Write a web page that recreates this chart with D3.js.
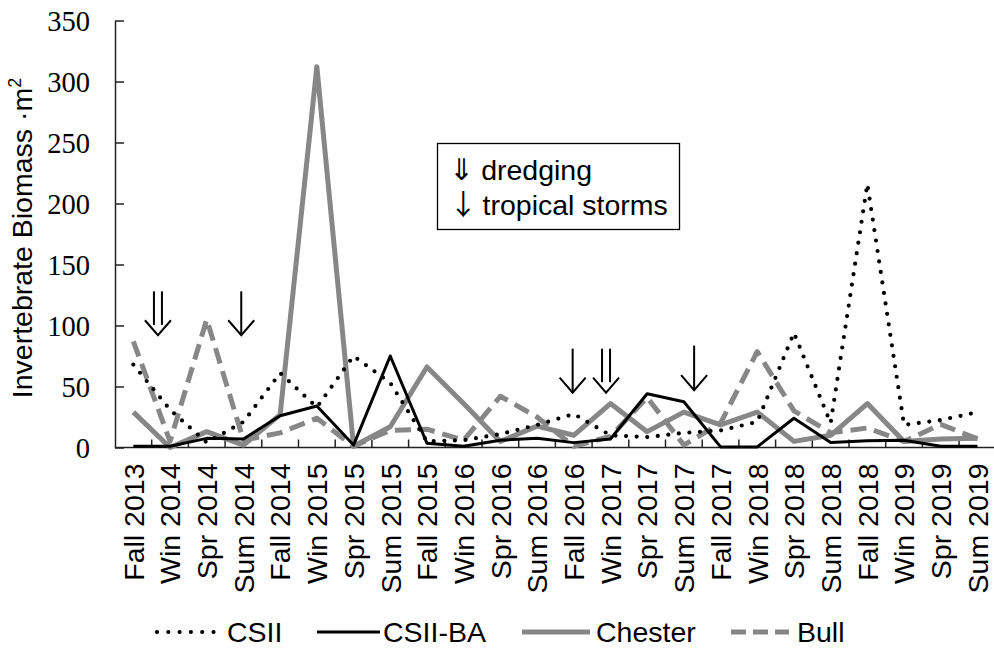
<!DOCTYPE html>
<html>
<head>
<meta charset="utf-8">
<script src="https://cdn.jsdelivr.net/npm/d3@7"></script>
<style>
  html, body { margin: 0; padding: 0; background: #fff; }
  svg { display: block; }
</style>
</head>
<body>
<svg id="chart" width="994" height="652"></svg>
<script>
// Seasonal sampling periods
const categories = [
  "Fall 2013", "Win 2014", "Spr 2014", "Sum 2014", "Fall 2014", "Win 2015",
  "Spr 2015", "Sum 2015", "Fall 2015", "Win 2016", "Spr 2016", "Sum 2016",
  "Fall 2016", "Win 2017", "Spr 2017", "Sum 2017", "Fall 2017", "Win 2018",
  "Spr 2018", "Sum 2018", "Fall 2018", "Win 2019", "Spr 2019", "Sum 2019"
];

// Invertebrate biomass per m² at each site
const csii    = [68, 31, 4, 21, 61, 33, 75, 53, 5, 6, 11, 18.5, 27.5, 10, 8.5, 12, 14, 21, 94, 20, 216, 18.5, 22.5, 29];
const csiiBA  = [1, 1, 7.5, 7, 26, 34, 2, 75, 3.5, 1, 6, 7.5, 4, 7, 44, 37.5, 0.5, 0.5, 24, 4, 5.5, 6, 1, 1];
const chester = [29, 0, 13, 2, 27, 312, 1, 17, 66, 36, 5, 17.5, 10, 36, 13, 29, 18.5, 29, 5, 10, 36, 5, 7, 7.5];
const bull    = [87, 5, 105, 6, 12, 24, 1, 14, 15, 6, 42, 25, 1, 9, 41, 2, 20, 78.6, 30, 12, 16, 5, 19, 7];

const yTicks = [0, 50, 100, 150, 200, 250, 300, 350];

// Event markers: position given as fractional category index, span in biomass units
const events = [
  { kind: "dredging", at: 0.67,  top: 128, bottom: 92 },
  { kind: "storm",    at: 2.94,  top: 128, bottom: 92 },
  { kind: "storm",    at: 11.97, top: 81,  bottom: 45 },
  { kind: "dredging", at: 12.88, top: 81,  bottom: 45 },
  { kind: "storm",    at: 15.28, top: 83.5, bottom: 47 }
];

// Key entries for the event markers
const eventKey = [
  { glyph: "⇓", label: "dredging", glyphSize: 30, gap: 7 },
  { glyph: "↓", label: "tropical storms", glyphSize: 28.5, gap: 5 }
];

const seriesNames = ["CSII", "CSII-BA", "Chester", "Bull"];
const seriesValues = [csii, csiiBA, chester, bull];

const styles = {
  "CSII":    { stroke: "#000", width: 4.2, dash: "0,10.6", cap: "round" },
  "CSII-BA": { stroke: "#000", width: 3,   dash: null,     cap: "butt" },
  "Chester": { stroke: "#878787", width: 5, dash: null,    cap: "butt" },
  "Bull":    { stroke: "#878787", width: 5, dash: "16,8",  cap: "butt" }
};

const svg = d3.select("#chart");
const sans = "'Liberation Sans', Arial, sans-serif";
const serif = "'Liberation Serif', 'Times New Roman', serif";
const arrowFont = "'Noto Sans CJK JP', 'Noto Sans CJK SC', 'DejaVu Sans', sans-serif";

const plotLeft = 115, plotRight = 995.8, plotTop = 20.5, plotBottom = 447.5;

const x = d3.scaleBand().domain(categories).range([plotLeft, plotRight]).padding(0);
const y = d3.scaleLinear().domain([0, 350]).range([plotBottom, plotTop]);
const cx = d => x(d) + x.bandwidth() / 2;
const px = idx => x(categories[0]) + x.bandwidth() / 2 + idx * x.bandwidth();

// Y axis: ticks point inward
const yAxis = d3.axisLeft(y).tickValues(yTicks).tickSize(-9).tickPadding(25).tickSizeOuter(0);
const gy = svg.append("g").attr("transform", `translate(${plotLeft},0)`).call(yAxis);
gy.select(".domain").attr("stroke", "#222").attr("stroke-width", 1.5);
gy.selectAll(".tick line").attr("stroke", "#222").attr("stroke-width", 1.5);
gy.selectAll(".tick text").attr("font-family", serif).attr("font-size", 28.5).attr("fill", "#000").attr("dy", "0.34em");

// X axis line with inward ticks on category boundaries
const gx = svg.append("g");
gx.append("line").attr("x1", plotLeft).attr("x2", 994).attr("y1", plotBottom).attr("y2", plotBottom)
  .attr("stroke", "#222").attr("stroke-width", 1.5);
gx.selectAll("line.tk").data(categories.slice(1)).join("line").attr("class", "tk")
  .attr("x1", d => x(d)).attr("x2", d => x(d))
  .attr("y1", plotBottom).attr("y2", plotBottom - 8)
  .attr("stroke", "#222").attr("stroke-width", 1.5);
gx.selectAll("text").data(categories).join("text")
  .attr("transform", d => `translate(${cx(d)},${plotBottom + 16}) rotate(-90)`)
  .attr("text-anchor", "end").attr("dy", "0.36em")
  .attr("font-family", sans).attr("font-size", 28.5).attr("fill", "#000")
  .text(d => d);

// Y axis title
const title = svg.append("text")
  .attr("transform", `translate(32,${(plotTop + plotBottom) / 2 + 4}) rotate(-90)`)
  .attr("text-anchor", "middle")
  .attr("font-family", sans).attr("font-size", 28.5).attr("fill", "#000");
title.append("tspan").text("Invertebrate Biomass ·m");
title.append("tspan").attr("font-size", 18).attr("dy", "-0.6em").text("2");

// Series lines
const line = d3.line().x((d, i) => cx(categories[i])).y(d => y(d));
const order = ["Bull", "Chester", "CSII-BA", "CSII"];
order.forEach(name => {
  const vals = seriesValues[seriesNames.indexOf(name)];
  const s = styles[name];
  svg.append("path").datum(vals)
    .attr("d", line)
    .attr("fill", "none")
    .attr("stroke", s.stroke)
    .attr("stroke-width", s.width)
    .attr("stroke-linejoin", "round")
    .attr("stroke-linecap", s.cap)
    .attr("stroke-dasharray", s.dash);
});

// Event arrows
const ev = svg.append("g").attr("stroke", "#000").attr("stroke-width", 2).attr("fill", "none");
events.forEach(e => {
  const xx = px(e.at), y1 = y(e.top), y2 = y(e.bottom);
  const hw = 13, hh = 15;
  if (e.kind === "storm") {
    ev.append("line").attr("x1", xx).attr("x2", xx).attr("y1", y1).attr("y2", y2);
    ev.append("path").attr("d", `M${xx - hw},${y2 - hh}L${xx},${y2}L${xx + hw},${y2 - hh}`);
  } else {
    const g = 4;
    const yb = y2 - hh * (hw - g) / hw;
    ev.append("line").attr("x1", xx - g).attr("x2", xx - g).attr("y1", y1).attr("y2", yb);
    ev.append("line").attr("x1", xx + g).attr("x2", xx + g).attr("y1", y1).attr("y2", yb);
    ev.append("path").attr("d", `M${xx - hw},${y2 - hh}L${xx},${y2}L${xx + hw},${y2 - hh}`);
  }
});

// Event key box: one line per entry
const key = svg.append("g");
key.append("rect").attr("x", 437.5).attr("y", 143.5).attr("width", 242).attr("height", 86)
  .attr("fill", "#fff").attr("stroke", "#000").attr("stroke-width", 1.3);
eventKey.forEach((k, i) => {
  const t = key.append("text").attr("x", 449).attr("y", 180 + i * 35)
    .attr("font-family", sans).attr("font-size", 28.5).attr("fill", "#000");
  t.append("tspan").attr("font-family", arrowFont).attr("font-size", k.glyphSize).text(k.glyph);
  t.append("tspan").attr("dx", k.gap).text(k.label);
});

// Series legend
const legendItems = [
  { name: "CSII",    x1: 157, x2: 214, tx: 227 },
  { name: "CSII-BA", x1: 317, x2: 380, tx: 383 },
  { name: "Chester", x1: 522, x2: 590, tx: 596 },
  { name: "Bull",    x1: 731, x2: 789, tx: 797 }
];
const ly = 632;
const lg = svg.append("g");
legendItems.forEach(it => {
  const s = styles[it.name];
  lg.append("line").attr("x1", it.x1).attr("x2", it.x2).attr("y1", ly).attr("y2", ly)
    .attr("stroke", s.stroke).attr("stroke-width", s.width)
    .attr("stroke-linecap", s.cap).attr("stroke-dasharray", it.name === "CSII" ? "0,11.3" : (it.name === "Bull" ? "15,7" : s.dash));
  lg.append("text").attr("x", it.tx).attr("y", ly).attr("dy", "0.36em")
    .attr("font-family", sans).attr("font-size", 28.5).attr("fill", "#000").text(it.name);
});
</script>
</body>
</html>
